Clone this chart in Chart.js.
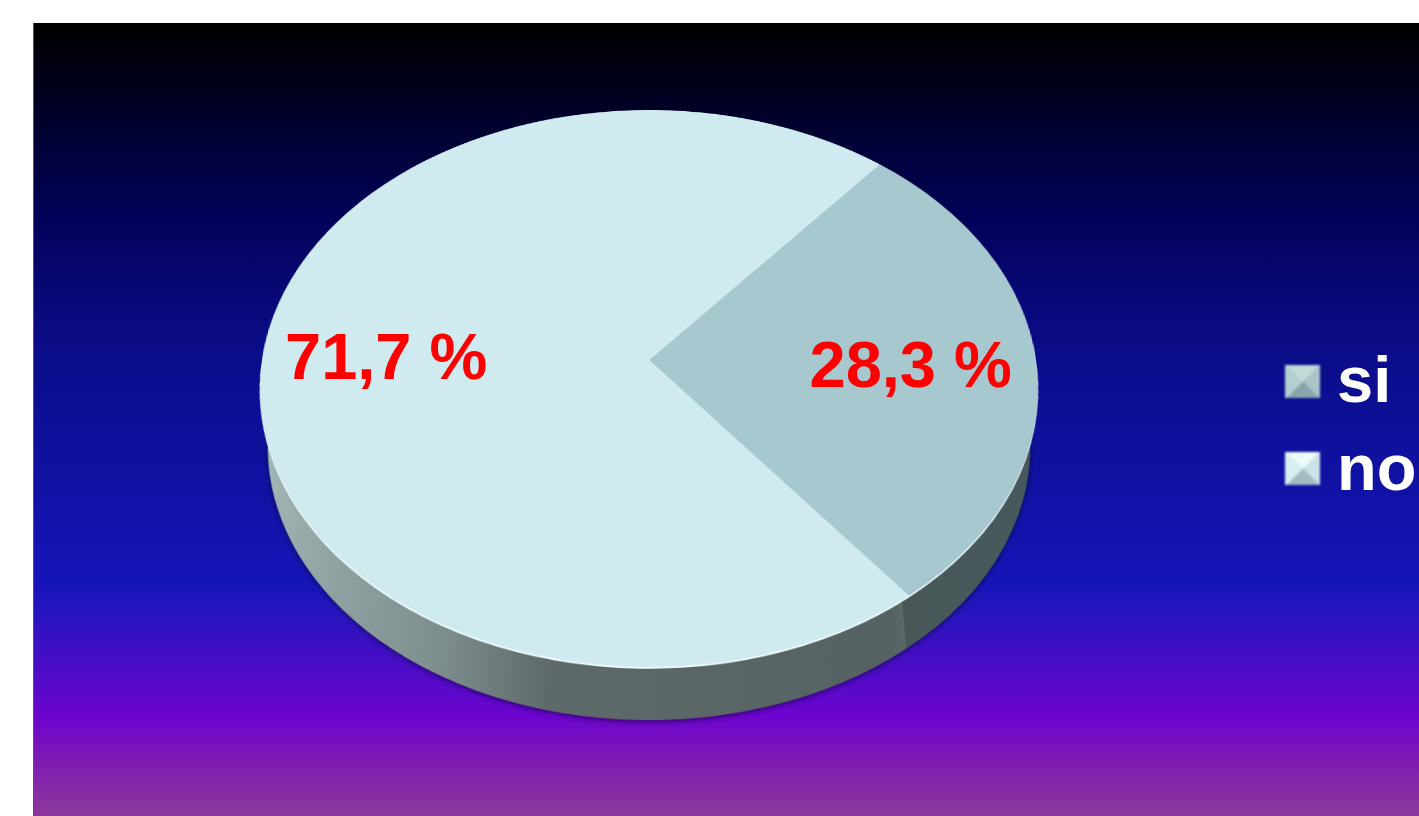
<!DOCTYPE html>
<html>
<head>
<meta charset="utf-8">
<script src="https://cdn.jsdelivr.net/npm/chart.js@4"></script>
<style>
  html, body { margin: 0; padding: 0; background: #fff; overflow: hidden; }
  #stage {
    position: absolute; left: 33px; top: 23px; width: 1386px; height: 793px; overflow: hidden;
    background: linear-gradient(180deg, #000000 0px, #00002c 97px, #02025a 197px, #0a0a80 297px, #0c1096 393px, #1515b8 560px, #2a14c0 593px, #4a0cc6 643px, #6c04d0 693px, #7a14b8 726px, #8428a8 760px, #8c389c 793px);
    box-shadow: inset 1px 0 0 #555;
  }
  canvas { position: absolute; }
  #wall { filter: drop-shadow(0 2px 3px rgba(0,0,30,.55)); }
  #top { filter: drop-shadow(0 2px 0 #eefcff); }
  .pct { position: absolute; font: bold 65px "Liberation Sans", Arial, sans-serif; color: #ff0000; line-height: 1; white-space: pre; }
  .legend-text { position: absolute; font: bold 65px "Liberation Sans", Arial, sans-serif; color: #fff; line-height: 1; }
  .legend-box { position: absolute; width: 35px; height: 33px; filter: blur(1px); }
</style>
</head>
<body>
<div id="stage">
  <canvas id="wall" width="774" height="774"></canvas>
  <canvas id="top" width="774" height="774"></canvas>
</div>
<script>
const categories = ["si", "no"]
const values = [28.3, 71.7]
const pctTexts = ["28,3 %", "71,7 %"]

const pieRotation = 40
const stageX = 33
const stageY = 23

// tilt values worked out from the top ellipse of the reference
const tilt = "perspective(2655px) rotateX(44.6deg)"

function place(canvas, cx, cy, scale) {
  canvas.style.left = (cx - 387 - stageX) + "px"
  canvas.style.top = (cy - 387 - stageY) + "px"
  canvas.style.transform = tilt + " scale(" + scale + ")"
}

function makePie(id, colors, borderWidth) {
  return new Chart(document.getElementById(id), {
    type: "pie",
    data: {
      labels: categories,
      datasets: [{ data: values, backgroundColor: colors, borderColor: colors, borderWidth: borderWidth }]
    },
    options: {
      responsive: false,
      animation: false,
      rotation: pieRotation,
      layout: { padding: 0 },
      plugins: { legend: { display: false }, tooltip: { enabled: false } }
    }
  })
}

const wallCanvas = document.getElementById("wall")
const topCanvas = document.getElementById("top")
place(wallCanvas, 649, 420, 0.98)
place(topCanvas, 649, 360, 1)

// the rim is one horizontal gradient, the hard stop makes the upright seam under the slice corner
const wallCtx = wallCanvas.getContext("2d")
const rim = wallCtx.createLinearGradient(0, 0, 774, 0)
rim.addColorStop(0, "#a2b6b6")
rim.addColorStop(0.1, "#90a4a4")
rim.addColorStop(0.25, "#7c8e8c")
rim.addColorStop(0.38, "#5e6a6a")
rim.addColorStop(0.795, "#566161")
rim.addColorStop(0.813, "#5c6868")
rim.addColorStop(0.813, "#485858")
rim.addColorStop(1, "#465a5c")

makePie("wall", [rim, rim], 2)
makePie("top", ["#a8c8d0", "#d0ebef"], 0)

// text overlay, positions in page pixels
const stage = document.getElementById("stage")
function addText(cls, text, x, baseline, size) {
  const el = document.createElement("div")
  el.className = cls
  el.textContent = text
  // Liberation Sans line box with line-height 1: baseline sits near 0.86em
  el.style.left = (x - stageX) + "px"
  el.style.top = (baseline - size * 0.86 - stageY) + "px"
  stage.appendChild(el)
}
const pctX = [809.5, 285]
const pctBase = [388, 380]
pctTexts.forEach((t, i) => addText("pct", t, pctX[i], pctBase[i], 65))

const boxColors = [
  ["#c4d8d8", "#aac6ca", "#88a6ac", "#b4cfd0"],
  ["#eef9fa", "#cbe4e9", "#a2bcc2", "#d8eff2"]
]
const legendTops = [365, 452]
const legendBase = [403, 491]
categories.forEach((name, i) => {
  const c = boxColors[i]
  const box = document.createElement("div")
  box.className = "legend-box"
  box.style.left = (1285 - stageX) + "px"
  box.style.top = (legendTops[i] - stageY) + "px"
  box.style.background = "conic-gradient(from -45deg, " + c[0] + " 0 25%, " + c[1] + " 0 50%, " + c[2] + " 0 75%, " + c[3] + " 0)"
  stage.appendChild(box)
  addText("legend-text", name, 1337, legendBase[i], 65)
})
</script>
</body>
</html>
